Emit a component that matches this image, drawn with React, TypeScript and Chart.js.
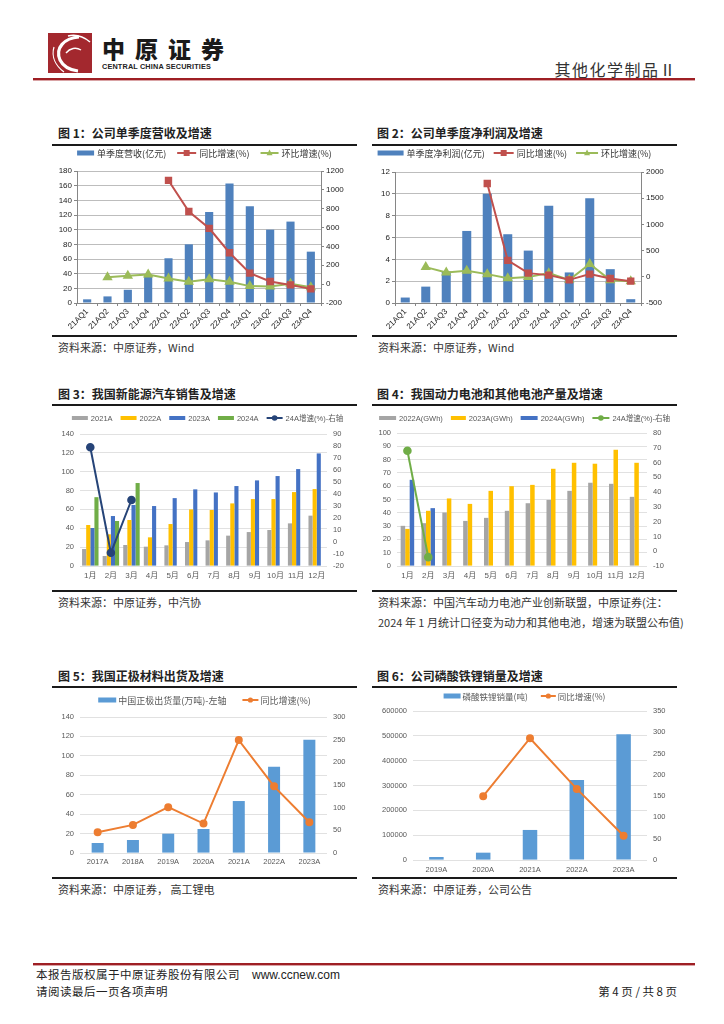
import React, { useEffect, useRef } from "react";
import { Chart, registerables } from "chart.js";
Chart.register(...registerables);

// ---------------- DATA ----------------
const quarterLabels = ["21AQ1", "21AQ2", "21AQ3", "21AQ4", "22AQ1", "22AQ2", "22AQ3", "22AQ4", "23AQ1", "23AQ2", "23AQ3", "23AQ4"];
const revenue = [5, 9, 18, 38, 61, 80, 124, 163, 132, 100, 111, 70];
const revenueYoy = [null, null, null, null, 1100, 770, 592, 333, 117, 28, -8, -50];
const revenueQoq = [null, 74, 89, 103, 60, 25, 53, 25, -21, -25, 4, -32];

const netProfit = [0.5, 1.5, 2.9, 6.6, 10.0, 6.3, 4.8, 8.9, 2.8, 9.6, 3.1, 0.35];
const profitYoy = [null, null, null, null, 1780, 313, 70, 32, -58, 51, -32, -83];
const profitQoq = [null, 185, 83, 115, 51, -26, -6, 70, -58, 243, -64, -83];

const monthLabels = ["1月", "2月", "3月", "4月", "5月", "6月", "7月", "8月", "9月", "10月", "11月", "12月"];
const nev2021 = [18, 10.6, 22.3, 20.5, 21.9, 25.4, 27.2, 32.2, 36, 38.2, 45.2, 53.4];
const nev2022 = [43.5, 33.6, 48.8, 30.4, 44.5, 60, 59.4, 66.4, 71, 71, 78.4, 81.6];
const nev2023 = [40.3, 53, 64.7, 63.6, 72, 81.3, 78, 84.8, 90.8, 95.4, 102.8, 119.4];
const nev2024 = [73, 47.7, 88, null, null, null, null, null, null, null, null, null];
const nev24Growth = [79, -9, 35, null, null, null, null, null, null, null, null, null];

const bat2022 = [30.2, 32.2, 40.2, 33.9, 36.2, 41.5, 47.2, 49.7, 56.5, 62.6, 61.8, 52];
const bat2023 = [27.9, 41.5, 50.8, 46.7, 56.5, 60, 61, 73.1, 77.6, 76.9, 87.4, 77.6];
const bat2024 = [64.8, 43.5, null, null, null, null, null, null, null, null, null, null];
const bat24Growth = [68, -4, null, null, null, null, null, null, null, null, null, null];

const yearLabels5 = ["2017A", "2018A", "2019A", "2020A", "2021A", "2022A", "2023A"];
const cathodeShip = [10.3, 13.4, 19.9, 24.7, 53.5, 88.9, 116.7];
const cathodeYoy = [46, 62, 101, 65, 249, 147, 68];

const yearLabels6 = ["2019A", "2020A", "2021A", "2022A", "2023A"];
const lfpSales = [12000, 29500, 121000, 322000, 506000];
const lfpYoy = [null, 150, 286, 167, 57];

// ---------------- STYLE HELPERS ----------------
const CJK = '"Noto Sans CJK SC", "Noto Sans", sans-serif';
const LAT = '"Liberation Sans", Arial, "Noto Sans CJK SC", sans-serif';
const plain = (v: any) => String(v);

type LItem = { kind: "bar" | "line"; color: string; text: string; marker?: "rect" | "triangle" | "circle"; sw: number };

function drawMarker(ctx: CanvasRenderingContext2D, style: string, x: number, y: number, r: number, color: string) {
  ctx.fillStyle = color;
  ctx.beginPath();
  if (style === "rect") ctx.rect(x - r, y - r, 2 * r, 2 * r);
  else if (style === "triangle") {
    ctx.moveTo(x, y - r * 1.15);
    ctx.lineTo(x + r, y + r * 0.75);
    ctx.lineTo(x - r, y + r * 0.75);
    ctx.closePath();
  } else ctx.arc(x, y, r, 0, Math.PI * 2);
  ctx.fill();
}

function legendPlugin(items: LItem[], o: { y: number; font: string; color: string; gap: number; tgap: number; dx?: number; mr?: number; bh?: number }) {
  return {
    id: "customLegend",
    afterDraw(chart: any) {
      const ctx: CanvasRenderingContext2D = chart.ctx;
      ctx.save();
      ctx.font = o.font;
      ctx.textBaseline = "middle";
      ctx.textAlign = "left";
      const widths = items.map((it) => it.sw + o.tgap + ctx.measureText(it.text).width);
      const total = widths.reduce((a, b) => a + b, 0) + o.gap * (items.length - 1);
      let x = (chart.width - total) / 2 + (o.dx || 0);
      items.forEach((it, i) => {
        if (it.kind === "bar") {
          const bh = o.bh || 5;
          ctx.fillStyle = it.color;
          ctx.fillRect(x, o.y - bh / 2, it.sw, bh);
        } else {
          ctx.strokeStyle = it.color;
          ctx.lineWidth = 2;
          ctx.beginPath();
          ctx.moveTo(x, o.y);
          ctx.lineTo(x + it.sw, o.y);
          ctx.stroke();
          if (it.marker) drawMarker(ctx, it.marker, x + it.sw / 2, o.y, o.mr || 3, it.color);
        }
        ctx.fillStyle = o.color;
        ctx.fillText(it.text, x + it.sw + o.tgap, o.y + 0.5);
        x += widths[i] + o.gap;
      });
      ctx.restore();
    },
  };
}

function oldScales(p: any) {
  const axisC = "#868686";
  const tickFont = { family: LAT, size: 8 };
  return {
    x: {
      grid: { display: true, drawOnChartArea: false, tickLength: 3, color: axisC, tickColor: axisC },
      border: { display: true, color: axisC },
      ticks: { font: tickFont, color: "#222", minRotation: 45, maxRotation: 45, autoSkip: false, padding: 1 },
      afterFit: (s: any) => { s.height = p.xH; },
    },
    y: {
      position: "left",
      min: p.yMin, max: p.yMax,
      ticks: { stepSize: p.yStep, font: tickFont, color: "#222", padding: 2, callback: plain },
      grid: { color: "#BDBDBD", tickLength: 3, tickColor: axisC },
      border: { display: true, color: axisC },
      afterFit: (s: any) => { s.width = p.leftW; },
    },
    y1: {
      position: "right",
      min: p.y1Min, max: p.y1Max,
      ticks: { stepSize: p.y1Step, font: tickFont, color: "#222", padding: 2, callback: plain },
      grid: { drawOnChartArea: false, tickLength: 3, tickColor: axisC },
      border: { display: true, color: axisC },
      afterFit: (s: any) => { s.width = p.rightW; },
    },
  };
}

function newScales(p: any) {
  const tickFont = { family: LAT, size: 7.5 };
  return {
    x: {
      grid: { display: false, drawTicks: false },
      border: { display: false },
      ticks: { font: { family: LAT, size: p.xFont || 7.5 }, color: "#595959", autoSkip: false, maxRotation: 0, padding: p.xPad },
      afterFit: (s: any) => { s.height = p.xH; },
    },
    y: {
      position: "left",
      min: p.yMin, max: p.yMax,
      ticks: { stepSize: p.yStep, font: tickFont, color: "#595959", padding: 6, callback: plain },
      grid: { color: "#D9D9D9", drawTicks: false, lineWidth: 0.8 },
      border: { display: false },
      afterFit: (s: any) => { s.width = p.leftW; },
    },
    y1: {
      position: "right",
      min: p.y1Min, max: p.y1Max,
      ticks: { stepSize: p.y1Step, font: tickFont, color: "#595959", padding: 6, callback: plain },
      grid: { drawOnChartArea: false, drawTicks: false },
      border: { display: false },
      afterFit: (s: any) => { s.width = p.rightW; },
    },
  };
}

const baseOpts = (top: number) => ({
  animation: false,
  responsive: false,
  maintainAspectRatio: false,
  layout: { padding: { top, left: 0, right: 0, bottom: 0 } },
  plugins: { legend: { display: false }, tooltip: { enabled: false } },
});

// ---------------- CHART BUILDERS ----------------
function buildChart1() {
  return {
    type: "bar",
    data: {
      labels: quarterLabels,
      datasets: [
        { type: "line", data: revenueYoy, yAxisID: "y1", borderColor: "#C0504D", backgroundColor: "#C0504D", borderWidth: 2, pointStyle: "rect", pointRadius: 3.8, order: 0 },
        { type: "line", data: revenueQoq, yAxisID: "y1", borderColor: "#9BBB59", backgroundColor: "#9BBB59", borderWidth: 2, pointStyle: "triangle", pointRadius: 4, order: 0 },
        { type: "bar", data: revenue, yAxisID: "y", backgroundColor: "#4F81BD", barPercentage: 0.4, categoryPercentage: 1, order: 1 },
      ],
    },
    options: {
      ...baseOpts(24),
      scales: oldScales({ yMin: 0, yMax: 180, yStep: 20, y1Min: -200, y1Max: 1200, y1Step: 200, leftW: 25, rightW: 36, xH: 32 }),
    },
    plugins: [
      legendPlugin(
        [
          { kind: "bar", color: "#4F81BD", text: "单季度营收(亿元)", sw: 17 },
          { kind: "line", color: "#C0504D", text: "同比增速(%)", marker: "rect", sw: 19 },
          { kind: "line", color: "#9BBB59", text: "环比增速(%)", marker: "triangle", sw: 18 },
        ],
        { y: 6, font: `9px ${CJK}`, color: "#333", gap: 11, tgap: 3, mr: 3, bh: 5 }
      ),
    ],
  };
}

function buildChart2() {
  return {
    type: "bar",
    data: {
      labels: quarterLabels,
      datasets: [
        { type: "line", data: profitYoy, yAxisID: "y1", borderColor: "#C0504D", backgroundColor: "#C0504D", borderWidth: 2, pointStyle: "rect", pointRadius: 3.8, order: 0 },
        { type: "line", data: profitQoq, yAxisID: "y1", borderColor: "#9BBB59", backgroundColor: "#9BBB59", borderWidth: 2, pointStyle: "triangle", pointRadius: 4, order: 0 },
        { type: "bar", data: netProfit, yAxisID: "y", backgroundColor: "#4F81BD", barPercentage: 0.44, categoryPercentage: 1, order: 1 },
      ],
    },
    options: {
      ...baseOpts(25),
      scales: oldScales({ yMin: 0, yMax: 12, yStep: 2, y1Min: -500, y1Max: 2000, y1Step: 500, leftW: 23, rightW: 36, xH: 32 }),
    },
    plugins: [
      legendPlugin(
        [
          { kind: "bar", color: "#4F81BD", text: "单季度净利润(亿元)", sw: 26 },
          { kind: "line", color: "#C0504D", text: "同比增速(%)", marker: "rect", sw: 20 },
          { kind: "line", color: "#9BBB59", text: "环比增速(%)", marker: "triangle", sw: 22 },
        ],
        { y: 6, font: `9px ${CJK}`, color: "#333", gap: 9, tgap: 3, mr: 3, bh: 5, dx: -10 }
      ),
    ],
  };
}

function buildChart3() {
  return {
    type: "bar",
    data: {
      labels: monthLabels,
      datasets: [
        { type: "line", data: nev24Growth, yAxisID: "y1", borderColor: "#264478", backgroundColor: "#264478", borderWidth: 2, pointStyle: "circle", pointRadius: 3.3, order: 0 },
        { type: "bar", data: nev2021, yAxisID: "y", backgroundColor: "#A5A5A5", barPercentage: 1, categoryPercentage: 0.8, order: 1 },
        { type: "bar", data: nev2022, yAxisID: "y", backgroundColor: "#FFC000", barPercentage: 1, categoryPercentage: 0.8, order: 1 },
        { type: "bar", data: nev2023, yAxisID: "y", backgroundColor: "#4472C4", barPercentage: 1, categoryPercentage: 0.8, order: 1 },
        { type: "bar", data: nev2024, yAxisID: "y", backgroundColor: "#70AD47", barPercentage: 1, categoryPercentage: 0.8, order: 1 },
      ],
    },
    options: {
      ...baseOpts(28),
      scales: newScales({ yMin: 0, yMax: 140, yStep: 20, y1Min: -20, y1Max: 90, y1Step: 10, leftW: 28, rightW: 30, xH: 24, xPad: 5, xFont: 8 }),
    },
    plugins: [
      legendPlugin(
        [
          { kind: "bar", color: "#A5A5A5", text: "2021A", sw: 16 },
          { kind: "bar", color: "#FFC000", text: "2022A", sw: 16 },
          { kind: "bar", color: "#4472C4", text: "2023A", sw: 16 },
          { kind: "bar", color: "#70AD47", text: "2024A", sw: 16 },
          { kind: "line", color: "#264478", text: "24A增速(%)-右轴", marker: "circle", sw: 16 },
        ],
        { y: 12, font: `7.5px ${LAT}`, color: "#595959", gap: 8, tgap: 3, mr: 2.8, bh: 4, dx: 3 }
      ),
    ],
  };
}

function buildChart4() {
  return {
    type: "bar",
    data: {
      labels: monthLabels,
      datasets: [
        { type: "line", data: bat24Growth, yAxisID: "y1", borderColor: "#70AD47", backgroundColor: "#70AD47", borderWidth: 2, pointStyle: "circle", pointRadius: 3.3, order: 0 },
        { type: "bar", data: bat2022, yAxisID: "y", backgroundColor: "#A5A5A5", barPercentage: 1, categoryPercentage: 0.65, order: 1 },
        { type: "bar", data: bat2023, yAxisID: "y", backgroundColor: "#FFC000", barPercentage: 1, categoryPercentage: 0.65, order: 1 },
        { type: "bar", data: bat2024, yAxisID: "y", backgroundColor: "#4472C4", barPercentage: 1, categoryPercentage: 0.65, order: 1 },
      ],
    },
    options: {
      ...baseOpts(27),
      scales: newScales({ yMin: 0, yMax: 100, yStep: 10, y1Min: -10, y1Max: 80, y1Step: 10, leftW: 25, rightW: 30, xH: 24, xPad: 5, xFont: 8 }),
    },
    plugins: [
      legendPlugin(
        [
          { kind: "bar", color: "#A5A5A5", text: "2022A(GWh)", sw: 17 },
          { kind: "bar", color: "#FFC000", text: "2023A(GWh)", sw: 15 },
          { kind: "bar", color: "#4472C4", text: "2024A(GWh)", sw: 17 },
          { kind: "line", color: "#70AD47", text: "24A增速(%)-右轴", marker: "circle", sw: 17 },
        ],
        { y: 12, font: `7.5px ${LAT}`, color: "#595959", gap: 8, tgap: 3, mr: 2.8, bh: 4 }
      ),
    ],
  };
}

function buildChart5() {
  return {
    type: "bar",
    data: {
      labels: yearLabels5,
      datasets: [
        { type: "line", data: cathodeYoy, yAxisID: "y1", borderColor: "#ED7D31", backgroundColor: "#ED7D31", borderWidth: 2, pointStyle: "circle", pointRadius: 3, order: 0 },
        { type: "bar", data: cathodeShip, yAxisID: "y", backgroundColor: "#5B9BD5", barPercentage: 0.34, categoryPercentage: 1, order: 1 },
      ],
    },
    options: {
      ...baseOpts(29),
      scales: newScales({ yMin: 0, yMax: 140, yStep: 20, y1Min: 0, y1Max: 300, y1Step: 50, leftW: 28, rightW: 30, xH: 24, xPad: 4 }),
    },
    plugins: [
      legendPlugin(
        [
          { kind: "bar", color: "#5B9BD5", text: "中国正极出货量(万吨)-左轴", sw: 18 },
          { kind: "line", color: "#ED7D31", text: "同比增速(%)", marker: "circle", sw: 16 },
        ],
        { y: 12, font: `9px ${CJK}`, color: "#595959", gap: 16, tgap: 2, mr: 2.6, bh: 5 }
      ),
    ],
  };
}

function buildChart6() {
  return {
    type: "bar",
    data: {
      labels: yearLabels6,
      datasets: [
        { type: "line", data: lfpYoy, yAxisID: "y1", borderColor: "#ED7D31", backgroundColor: "#ED7D31", borderWidth: 2, pointStyle: "circle", pointRadius: 3, order: 0 },
        { type: "bar", data: lfpSales, yAxisID: "y", backgroundColor: "#5B9BD5", barPercentage: 0.31, categoryPercentage: 1, order: 1 },
      ],
    },
    options: {
      ...baseOpts(23),
      scales: newScales({ yMin: 0, yMax: 600000, yStep: 100000, y1Min: 0, y1Max: 350, y1Step: 50, leftW: 41, rightW: 30, xH: 17, xPad: 5 }),
    },
    plugins: [
      legendPlugin(
        [
          { kind: "bar", color: "#5B9BD5", text: "磷酸铁锂销量(吨)", sw: 17 },
          { kind: "line", color: "#ED7D31", text: "同比增速(%)", marker: "circle", sw: 15 },
        ],
        { y: 8, font: `8.5px ${CJK}`, color: "#595959", gap: 13, tgap: 2, mr: 2.6, bh: 5 }
      ),
    ],
  };
}

// ---------------- COMPONENTS ----------------
function ChartCanvas({ left, top, width, height, build }: any) {
  const ref = useRef<HTMLCanvasElement | null>(null);
  useEffect(() => {
    if (!ref.current) return;
    const chart = new Chart(ref.current, build() as any);
    return () => chart.destroy();
  }, [build]);
  return (
    <div style={{ position: "absolute", left, top, width, height }}>
      <canvas ref={ref} width={width} height={height} style={{ width, height, display: "block" }} />
    </div>
  );
}

function Text({ x, y, size = 11, bold = false, color = "#222", right, family = CJK, spacing = 0, children }: any) {
  const style: any = {
    position: "absolute",
    top: y - size / 2 - 1,
    fontSize: size,
    lineHeight: `${size + 2}px`,
    fontFamily: family,
    fontWeight: bold ? 700 : 400,
    color,
    whiteSpace: "nowrap",
    letterSpacing: spacing,
  };
  if (right !== undefined) style.right = 724 - right;
  else style.left = x;
  return <div style={style}>{children}</div>;
}

function HLine({ x, y, w, h = 2, color = "#1a1a1a" }: any) {
  return <div style={{ position: "absolute", left: x, top: y, width: w, height: h, background: color }} />;
}

export default function App() {
  useEffect(() => {
    document.body.style.margin = "0";
    document.body.style.background = "#fff";
  }, []);
  return (
    <div style={{ position: "relative", width: 724, height: 1024, background: "#fff", overflow: "hidden" }}>
      {/* Header */}
      <svg style={{ position: "absolute", left: 48, top: 33 }} width={44} height={40} viewBox="0 0 44 40">
        <rect width="44" height="40" fill="#A3282E" />
        <path d="M31 4 C 16 5, 7 15, 12 27 C 15 33, 22 37, 30 38" stroke="#fff" strokeWidth="3.2" fill="none" />
        <path d="M20 3 C 28 1, 36 4, 42 9" stroke="#fff" strokeWidth="1.6" fill="none" />
        <path d="M6 14 C 3 24, 8 33, 16 39" stroke="#fff" strokeWidth="1.2" fill="none" />
        <path d="M18 20 C 22 15, 28 14, 33 17" stroke="#fff" strokeWidth="1.4" fill="none" />
      </svg>
      <div style={{ position: "absolute", left: 102, top: 35, fontSize: 23, lineHeight: "26px", fontFamily: CJK, fontWeight: 900, letterSpacing: 10, color: "#1a1a1a" }}>中原证券</div>
      <div style={{ position: "absolute", left: 102, top: 62, fontSize: 7.3, lineHeight: "9px", fontFamily: LAT, fontWeight: 700, color: "#222", letterSpacing: 0.15 }}>CENTRAL CHINA SECURITIES</div>
      <Text right={677} y={69} size={16} color="#333" spacing={1.5}>其他化学制品Ⅱ</Text>
      <HLine x={33} y={78} w={662} h={2} color="#9E1F24" />
      <HLine x={33} y={80} w={662} h={1} color="#D9A3A5" />

      {/* Row 1 */}
      <Text x={58} y={133} size={12} bold>图 1：公司单季度营收及增速</Text>
      <HLine x={52} y={144} w={305} />
      <ChartCanvas left={52} top={147} width={305} height={188} build={buildChart1} />
      <HLine x={52} y={335} w={305} />
      <Text x={58} y={347} size={11} color="#333">资料来源：中原证券，Wind</Text>

      <Text x={377} y={133} size={12} bold>图 2：公司单季度净利润及增速</Text>
      <HLine x={372} y={144} w={305} />
      <ChartCanvas left={372} top={147} width={305} height={188} build={buildChart2} />
      <HLine x={372} y={335} w={305} />
      <Text x={378} y={347} size={11} color="#333">资料来源：中原证券，Wind</Text>

      {/* Row 2 */}
      <Text x={58} y={394} size={12} bold>图 3：我国新能源汽车销售及增速</Text>
      <HLine x={52} y={404} w={305} />
      <ChartCanvas left={52} top={406} width={305} height={184} build={buildChart3} />
      <HLine x={52} y={590} w={305} />
      <Text x={58} y={602} size={11} color="#333">资料来源：中原证券，中汽协</Text>

      <Text x={377} y={394} size={12} bold>图 4：我国动力电池和其他电池产量及增速</Text>
      <HLine x={372} y={404} w={305} />
      <ChartCanvas left={372} top={406} width={305} height={184} build={buildChart4} />
      <HLine x={372} y={590} w={305} />
      <Text x={378} y={602} size={11} color="#333">资料来源：中国汽车动力电池产业创新联盟，中原证券(注：</Text>
      <Text x={378} y={622} size={11} color="#333">2024 年 1 月统计口径变为动力和其他电池，增速为联盟公布值)</Text>

      {/* Row 3 */}
      <Text x={58} y={676} size={12} bold>图 5：我国正极材料出货及增速</Text>
      <HLine x={52} y={686} w={305} />
      <ChartCanvas left={52} top={688} width={305} height={189} build={buildChart5} />
      <HLine x={52} y={877} w={305} />
      <Text x={58} y={889} size={11} color="#333">资料来源：中原证券， 高工锂电</Text>

      <Text x={377} y={676} size={12} bold>图 6：公司磷酸铁锂销量及增速</Text>
      <HLine x={372} y={686} w={305} />
      <ChartCanvas left={372} top={688} width={305} height={189} build={buildChart6} />
      <HLine x={372} y={877} w={305} />
      <Text x={378} y={889} size={11} color="#333">资料来源：中原证券，公司公告</Text>

      {/* Footer */}
      <HLine x={33} y={963} w={662} h={2} color="#9E1F24" />
      <HLine x={33} y={965} w={662} h={1} color="#D9A3A5" />
      <Text x={36} y={975} size={11.5} color="#222" spacing={0.5}>本报告版权属于中原证券股份有限公司<span style={{ fontFamily: LAT, fontSize: 12, letterSpacing: 0, marginLeft: 12 }}>www.ccnew.com</span></Text>
      <Text x={36} y={992} size={11.5} color="#222" spacing={0.5}>请阅读最后一页各项声明</Text>
      <Text right={677} y={992} size={11.5} color="#222">第 4 页 / 共 8 页</Text>
    </div>
  );
}
